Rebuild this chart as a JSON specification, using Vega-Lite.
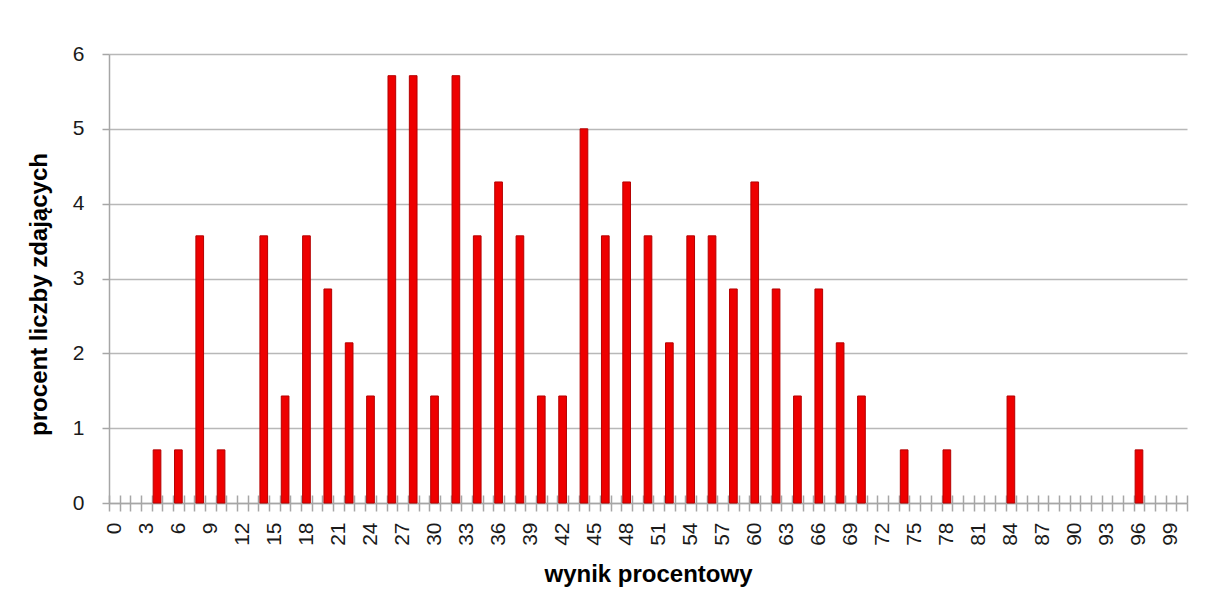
{
  "$schema": "https://vega.github.io/schema/vega-lite/v6.json",
  "autosize": "none",
  "width": 1078,
  "height": 449,
  "padding": {"left": 109, "top": 54, "right": 26, "bottom": 106},
  "background": "white",
  "config": {"view": {"stroke": null}},
  "data": {"values": [
    {"wynik": 4, "procent": 0.71},
    {"wynik": 6, "procent": 0.71},
    {"wynik": 8, "procent": 3.57},
    {"wynik": 10, "procent": 0.71},
    {"wynik": 14, "procent": 3.57},
    {"wynik": 16, "procent": 1.43},
    {"wynik": 18, "procent": 3.57},
    {"wynik": 20, "procent": 2.86},
    {"wynik": 22, "procent": 2.14},
    {"wynik": 24, "procent": 1.43},
    {"wynik": 26, "procent": 5.71},
    {"wynik": 28, "procent": 5.71},
    {"wynik": 30, "procent": 1.43},
    {"wynik": 32, "procent": 5.71},
    {"wynik": 34, "procent": 3.57},
    {"wynik": 36, "procent": 4.29},
    {"wynik": 38, "procent": 3.57},
    {"wynik": 40, "procent": 1.43},
    {"wynik": 42, "procent": 1.43},
    {"wynik": 44, "procent": 5.0},
    {"wynik": 46, "procent": 3.57},
    {"wynik": 48, "procent": 4.29},
    {"wynik": 50, "procent": 3.57},
    {"wynik": 52, "procent": 2.14},
    {"wynik": 54, "procent": 3.57},
    {"wynik": 56, "procent": 3.57},
    {"wynik": 58, "procent": 2.86},
    {"wynik": 60, "procent": 4.29},
    {"wynik": 62, "procent": 2.86},
    {"wynik": 64, "procent": 1.43},
    {"wynik": 66, "procent": 2.86},
    {"wynik": 68, "procent": 2.14},
    {"wynik": 70, "procent": 1.43},
    {"wynik": 74, "procent": 0.71},
    {"wynik": 78, "procent": 0.71},
    {"wynik": 84, "procent": 1.43},
    {"wynik": 96, "procent": 0.71}
  ]},
  "resolve": {"axis": {"x": "independent"}},
  "layer": [
    {
      "mark": {"type": "bar", "width": {"band": 0.72}, "fill": "#ee0000", "stroke": "#b50000", "strokeWidth": 1},
      "encoding": {
        "x": {
          "field": "wynik", "type": "ordinal",
          "scale": {"domain": [0,1,2,3,4,5,6,7,8,9,10,11,12,13,14,15,16,17,18,19,20,21,22,23,24,25,26,27,28,29,30,31,32,33,34,35,36,37,38,39,40,41,42,43,44,45,46,47,48,49,50,51,52,53,54,55,56,57,58,59,60,61,62,63,64,65,66,67,68,69,70,71,72,73,74,75,76,77,78,79,80,81,82,83,84,85,86,87,88,89,90,91,92,93,94,95,96,97,98,99,100], "paddingInner": 0, "paddingOuter": 0},
          "axis": {
            "orient": "bottom",
            "title": "wynik procentowy",
            "titleFont": "Liberation Sans", "titleFontSize": 24, "titleFontWeight": "bold", "titleColor": "#000000",
            "titlePadding": 17,
            "labelExpr": "datum.value % 3 === 0 ? datum.label : ''",
            "labelAngle": -90, "labelAlign": "right", "labelBaseline": "middle",
            "labelFont": "Liberation Sans", "labelFontSize": 21, "labelColor": "#1a1a1a",
            "labelOverlap": false, "labelPadding": 11,
            "tickBand": "extent", "tickSize": 8, "tickColor": "#a6a6a6", "tickWidth": 1.5,
            "domainColor": "#a6a6a6", "domainWidth": 1.5,
            "grid": false
          }
        },
        "y": {
          "field": "procent", "type": "quantitative",
          "scale": {"domain": [0, 6], "nice": false},
          "axis": {
            "values": [0,1,2,3,4,5,6],
            "format": "d",
            "title": "procent liczby zdających",
            "titleFont": "Liberation Sans", "titleFontSize": 24, "titleFontWeight": "bold", "titleColor": "#000000",
            "titlePadding": 21, "titleY": 240,
            "labelFont": "Liberation Sans", "labelFontSize": 21, "labelColor": "#1a1a1a", "labelPadding": 18,
            "tickSize": 7, "tickColor": "#a6a6a6", "tickWidth": 1.5,
            "domainColor": "#a6a6a6", "domainWidth": 1.5,
            "grid": true, "gridColor": "#b8b8b8", "gridWidth": 1.5
          }
        }
      }
    },
    {
      "mark": {"type": "bar", "opacity": 0},
      "encoding": {
        "x": {
          "field": "wynik", "type": "ordinal",
          "axis": {
            "orient": "bottom", "title": null, "labels": false, "domain": false,
            "tickBand": "extent", "tickSize": -8, "tickColor": "#a6a6a6", "tickWidth": 1.5, "grid": false
          }
        },
        "y": {"field": "procent", "type": "quantitative"}
      }
    }
  ]
}
